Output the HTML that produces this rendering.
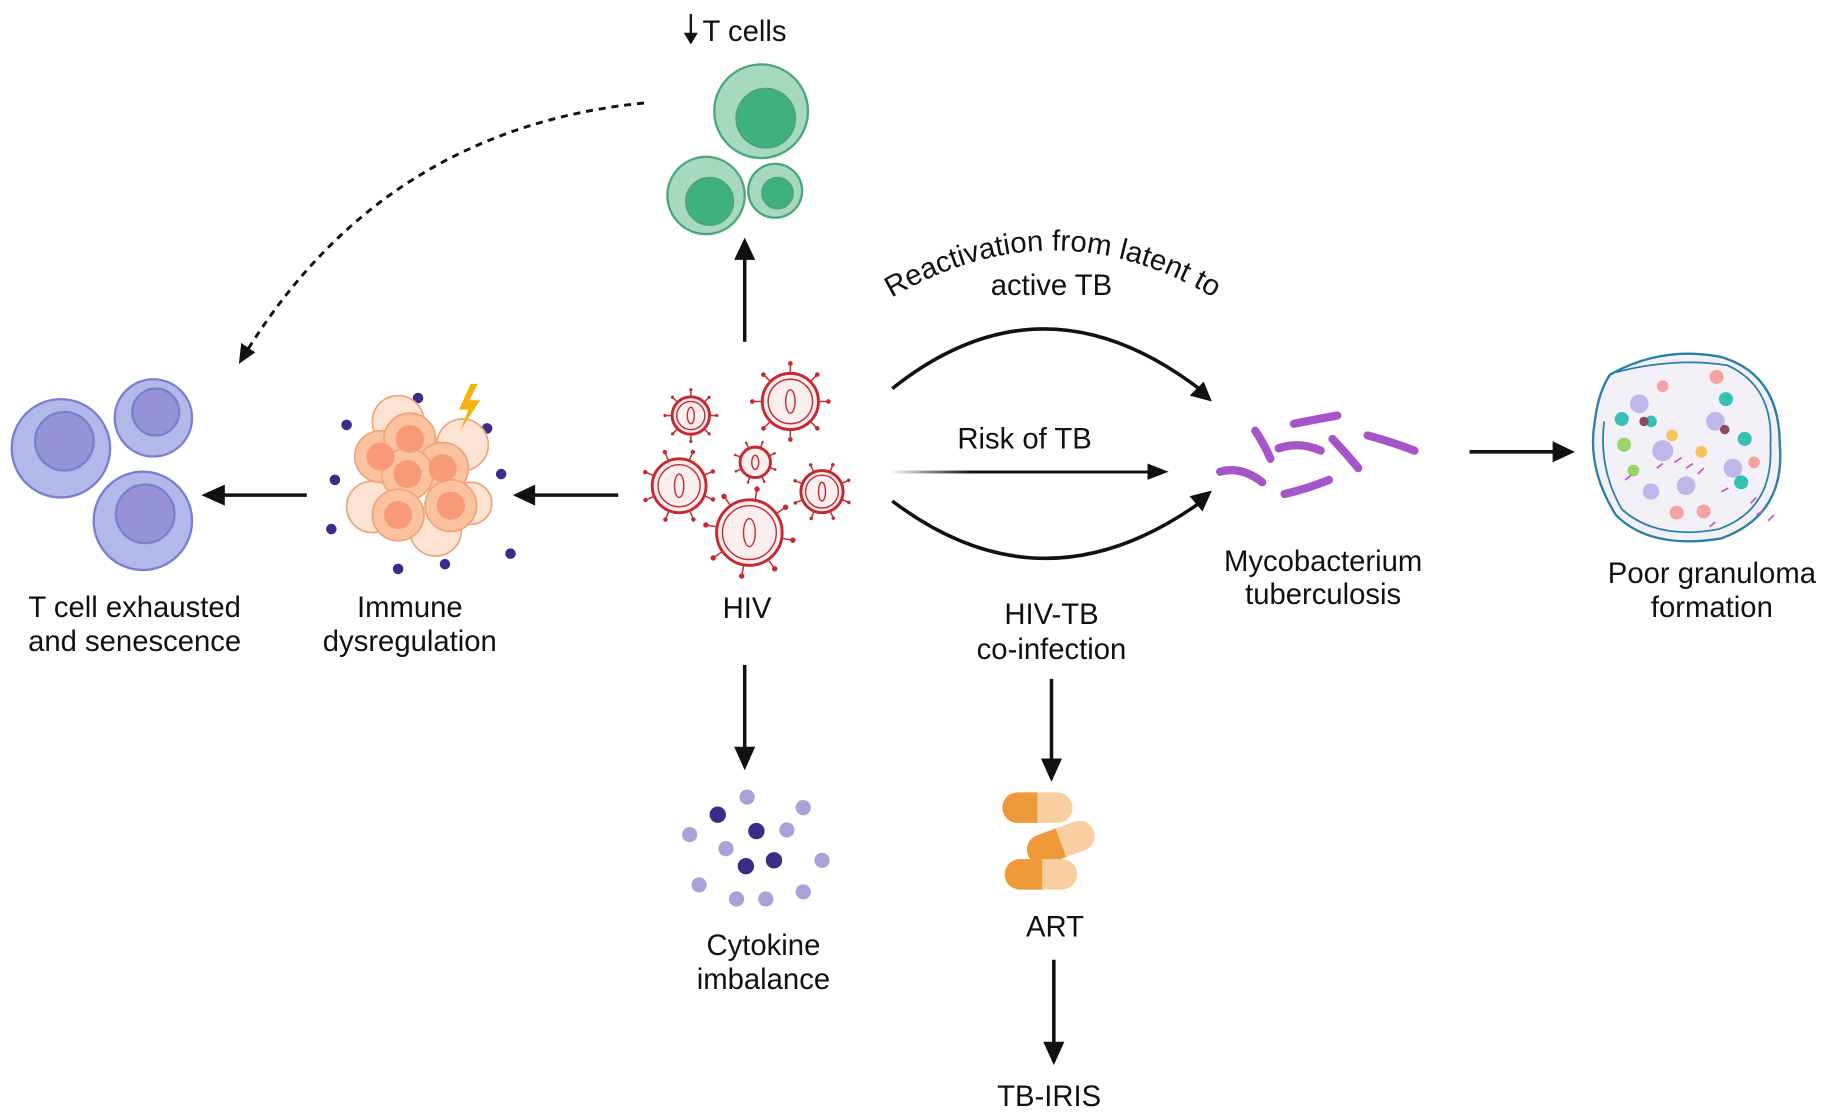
<!DOCTYPE html>
<html><head><meta charset="utf-8"><style>
html,body{margin:0;padding:0;background:#fff;}
svg{display:block;}
text{font-family:"Liberation Sans",Arial,sans-serif;font-size:25px;fill:#111;}
</style></head><body>
<svg width="1836" height="1119" viewBox="0 0 1568 956" preserveAspectRatio="none" xmlns="http://www.w3.org/2000/svg">
<defs>
<linearGradient id="fade" gradientUnits="userSpaceOnUse" x1="760" y1="0" x2="990" y2="0"><stop offset="0" stop-color="#111" stop-opacity="0"/><stop offset="0.3" stop-color="#111"/></linearGradient>
<g id="virus">
 <g stroke="#c62a30" stroke-width="1.5" vector-effect="non-scaling-stroke">
  <line x1="0" y1="-1" x2="0" y2="-1.25" vector-effect="non-scaling-stroke"/><line x1="0" y1="1" x2="0" y2="1.25" vector-effect="non-scaling-stroke"/>
  <line x1="-1" y1="0" x2="-1.25" y2="0" vector-effect="non-scaling-stroke"/><line x1="1" y1="0" x2="1.25" y2="0" vector-effect="non-scaling-stroke"/>
  <line x1="0.71" y1="0.71" x2="0.88" y2="0.88" vector-effect="non-scaling-stroke"/><line x1="-0.71" y1="0.71" x2="-0.88" y2="0.88" vector-effect="non-scaling-stroke"/>
  <line x1="0.71" y1="-0.71" x2="0.88" y2="-0.88" vector-effect="non-scaling-stroke"/><line x1="-0.71" y1="-0.71" x2="-0.88" y2="-0.88" vector-effect="non-scaling-stroke"/>
 </g>
 <g fill="#c62a30">
  <circle cx="0" cy="-1.3" r="0.08"/><circle cx="0" cy="1.3" r="0.08"/><circle cx="-1.3" cy="0" r="0.08"/><circle cx="1.3" cy="0" r="0.08"/>
  <circle cx="0.92" cy="0.92" r="0.08"/><circle cx="-0.92" cy="0.92" r="0.08"/><circle cx="0.92" cy="-0.92" r="0.08"/><circle cx="-0.92" cy="-0.92" r="0.08"/>
 </g>
</g>
</defs>

<!-- T cells -->
<text x="600" y="35">T cells</text>
<line x1="590" y1="12" x2="590" y2="34" stroke="#111" stroke-width="2"/>
<polygon points="584,28 596,28 590,38" fill="#111"/>
<g stroke="#4aa77c" stroke-width="2">
<circle cx="650" cy="95" r="40" fill="#a6d9bf"/><circle cx="654" cy="101" r="25" fill="#3fb081"/>
<circle cx="603" cy="167" r="33" fill="#a6d9bf"/><circle cx="606" cy="172" r="20" fill="#3fb081"/>
<circle cx="662" cy="163" r="23" fill="#a6d9bf"/><circle cx="664" cy="165" r="13" fill="#3fb081"/>
</g>
<path d="M550,88 Q330,110 212,298" fill="none" stroke="#111" stroke-width="2.5" stroke-dasharray="6,5"/>
<polygon points="204,311 206,293 218,301" fill="#111"/>
<line x1="636" y1="292" x2="636" y2="220" stroke="#111" stroke-width="3"/>
<polygon points="627,222 645,222 636,203" fill="#111"/>

<!-- HIV -->
<g fill="#c62a30">
<use href="#virus" transform="translate(590,355) scale(17)"/>
<use href="#virus" transform="translate(675,343) scale(25)"/>
<use href="#virus" transform="translate(645,395) scale(14) rotate(20)"/>
<use href="#virus" transform="translate(580,415) scale(24) rotate(22)"/>
<use href="#virus" transform="translate(640,455) scale(29) rotate(10)"/>
<use href="#virus" transform="translate(702,420) scale(19) rotate(22)"/>
</g>
<g fill="#fbeeee" stroke="#c62a30" stroke-width="2.5">
<circle cx="590" cy="355" r="16"/><circle cx="675" cy="343" r="24"/><circle cx="645" cy="395" r="13"/>
<circle cx="580" cy="415" r="23"/><circle cx="640" cy="455" r="28"/><circle cx="702" cy="420" r="18"/>
</g>
<g fill="none" stroke="#c62a30" stroke-width="1.2">
<circle cx="590" cy="355" r="12"/><circle cx="675" cy="343" r="19"/><circle cx="580" cy="415" r="18"/><circle cx="640" cy="455" r="23"/><circle cx="702" cy="420" r="14"/>
<ellipse cx="590" cy="355" rx="3" ry="7"/><ellipse cx="675" cy="343" rx="4" ry="10"/><ellipse cx="645" cy="395" rx="3" ry="6"/><ellipse cx="580" cy="415" rx="4" ry="10"/><ellipse cx="640" cy="455" rx="5" ry="12"/><ellipse cx="702" cy="420" rx="3" ry="8"/>
</g>
<text x="638" y="528" text-anchor="middle">HIV</text>

<line x1="528" y1="423" x2="455" y2="423" stroke="#111" stroke-width="3"/>
<polygon points="457,414 457,432 438,423" fill="#111"/>

<!-- Immune dysregulation -->
<g fill="#3d2a8a">
<circle cx="357" cy="340" r="4.5"/><circle cx="296" cy="363" r="4.5"/><circle cx="416" cy="366" r="4.5"/><circle cx="286" cy="410" r="4.5"/><circle cx="428" cy="405" r="4.5"/><circle cx="283" cy="452" r="4.5"/><circle cx="436" cy="473" r="4.5"/><circle cx="340" cy="486" r="4.5"/><circle cx="380" cy="482" r="4.5"/>
</g>
<g stroke="#f0a57a" stroke-width="1.5">
<circle cx="340" cy="360" r="22" fill="#fde3d3"/><circle cx="395" cy="380" r="22" fill="#fde3d3"/><circle cx="318" cy="433" r="22" fill="#fde3d3"/><circle cx="372" cy="453" r="22" fill="#fde3d3"/><circle cx="402" cy="430" r="18" fill="#fde3d3"/>
<circle cx="325" cy="390" r="22" fill="#fbc29f"/><circle cx="350" cy="375" r="22" fill="#fbc29f"/><circle cx="378" cy="400" r="22" fill="#fbc29f"/><circle cx="348" cy="405" r="22" fill="#fbc29f"/><circle cx="385" cy="432" r="22" fill="#fbc29f"/><circle cx="340" cy="440" r="22" fill="#fbc29f"/>
</g>
<g fill="#f79a76">
<circle cx="325" cy="390" r="12"/><circle cx="350" cy="375" r="12"/><circle cx="378" cy="400" r="12"/><circle cx="348" cy="405" r="12"/><circle cx="385" cy="432" r="12"/><circle cx="340" cy="440" r="12"/>
</g>
<polygon points="402,328 392,350 400,350 393,368 410,342 401,342 408,328" fill="#f6b10a"/>
<text x="350" y="527" text-anchor="middle">Immune</text>
<text x="350" y="556" text-anchor="middle">dysregulation</text>

<line x1="262" y1="423" x2="190" y2="423" stroke="#111" stroke-width="3"/>
<polygon points="192,414 192,432 172,423" fill="#111"/>

<!-- T cell exhausted -->
<g stroke="#7b7fd0" stroke-width="2">
<circle cx="52" cy="383" r="42" fill="#b3b8ea"/><circle cx="55" cy="377" r="25" fill="#9693d6"/>
<circle cx="131" cy="357" r="33" fill="#b3b8ea"/><circle cx="133" cy="352" r="20" fill="#9693d6"/>
<circle cx="122" cy="445" r="42" fill="#b3b8ea"/><circle cx="124" cy="439" r="25" fill="#9693d6"/>
</g>
<text x="115" y="527" text-anchor="middle">T cell exhausted</text>
<text x="115" y="556" text-anchor="middle">and senescence</text>

<!-- Cytokine -->
<line x1="636" y1="568" x2="636" y2="640" stroke="#111" stroke-width="3"/>
<polygon points="627,638 645,638 636,658" fill="#111"/>
<g fill="#a8a2d6">
<circle cx="638" cy="681" r="6.5"/><circle cx="686" cy="690" r="6.5"/><circle cx="589" cy="713" r="6.5"/><circle cx="672" cy="709" r="6.5"/><circle cx="620" cy="725" r="6.5"/><circle cx="702" cy="735" r="6.5"/><circle cx="597" cy="756" r="6.5"/><circle cx="629" cy="768" r="6.5"/><circle cx="654" cy="768" r="6.5"/><circle cx="686" cy="762" r="6.5"/>
</g>
<g fill="#3a2b85"><circle cx="613" cy="696" r="7"/><circle cx="646" cy="710" r="7"/><circle cx="637" cy="740" r="7"/><circle cx="661" cy="735" r="7"/></g>
<text x="652" y="816" text-anchor="middle">Cytokine</text>
<text x="652" y="845" text-anchor="middle">imbalance</text>

<!-- Curved arrows -->
<path id="arc" d="M740,268 Q900,160 1058,268" fill="none"/>
<text font-size="25"><textPath href="#arc" startOffset="50%" text-anchor="middle">Reactivation from latent to</textPath></text>
<text x="898" y="252" text-anchor="middle">active TB</text>
<path d="M762,332 Q890,230 1024,332" fill="none" stroke="#111" stroke-width="3"/>
<polygon points="1035,343 1016,338 1028,326" fill="#111"/>
<text x="875" y="383" text-anchor="middle">Risk of TB</text>
<rect x="760" y="402" width="222" height="2.5" fill="url(#fade)"/>
<polygon points="980,396 980,410 998,403" fill="#111"/>
<path d="M762,428 Q890,525 1024,430" fill="none" stroke="#111" stroke-width="3"/>
<polygon points="1035,419 1016,424 1027,437" fill="#111"/>
<text x="898" y="533" text-anchor="middle">HIV-TB</text>
<text x="898" y="563" text-anchor="middle">co-infection</text>

<!-- ART -->
<line x1="898" y1="580" x2="898" y2="650" stroke="#111" stroke-width="3"/>
<polygon points="889,648 907,648 898,668" fill="#111"/>
<g>
<rect x="856" y="677" width="60" height="26" rx="13" fill="#f9cfa1"/><path d="M869,677 h17 v26 h-17 a13,13 0 0 1 0,-26z" fill="#ef9a3a"/>
<rect x="876" y="707" width="60" height="26" rx="13" fill="#f9cfa1" transform="rotate(-20 906 720)"/><path d="M889,707 h17 v26 h-17 a13,13 0 0 1 0,-26z" fill="#ef9a3a" transform="rotate(-20 906 720)"/>
<rect x="858" y="734" width="62" height="26" rx="13" fill="#f9cfa1"/><path d="M871,734 h19 v26 h-19 a13,13 0 0 1 0,-26z" fill="#ef9a3a"/>
</g>
<text x="901" y="800" text-anchor="middle">ART</text>
<line x1="900" y1="820" x2="900" y2="892" stroke="#111" stroke-width="3"/>
<polygon points="891,890 909,890 900,910" fill="#111"/>
<text x="896" y="945" text-anchor="middle">TB-IRIS</text>

<!-- Mycobacterium -->
<g stroke="#a555c7" stroke-width="7" stroke-linecap="round" fill="none">
<path d="M1042,403 Q1060,398 1078,412"/>
<path d="M1072,368 Q1080,380 1085,392"/>
<path d="M1092,383 Q1110,377 1128,385"/>
<path d="M1105,362 Q1125,358 1142,355"/>
<path d="M1097,422 Q1115,418 1135,410"/>
<path d="M1138,375 Q1152,390 1160,400"/>
<path d="M1168,372 Q1190,378 1208,385"/>
</g>
<text x="1130" y="488" text-anchor="middle">Mycobacterium</text>
<text x="1130" y="516" text-anchor="middle">tuberculosis</text>

<line x1="1255" y1="386" x2="1328" y2="386" stroke="#111" stroke-width="3"/>
<polygon points="1326,377 1326,395 1345,386" fill="#111"/>

<!-- Granuloma -->
<g>
<path d="M1375,320 Q1420,295 1470,305 Q1520,320 1520,380 Q1525,440 1470,460 Q1410,470 1380,440 Q1355,400 1362,360 Q1365,335 1375,320Z" fill="#f3f0f8" stroke="#2a7fa8" stroke-width="2"/>
<path d="M1380,318 Q1430,305 1475,312 Q1515,330 1512,380 Q1515,435 1468,452 Q1415,462 1385,435 Q1365,400 1370,360" fill="none" stroke="#2a7fa8" stroke-width="1.5"/>
<g fill="#bfb6ea"><circle cx="1400" cy="345" r="8"/><circle cx="1420" cy="385" r="9"/><circle cx="1440" cy="415" r="8"/><circle cx="1465" cy="360" r="8"/><circle cx="1480" cy="400" r="8"/><circle cx="1410" cy="420" r="7"/></g>
<g fill="#37c1b4"><circle cx="1385" cy="358" r="6"/><circle cx="1474" cy="341" r="6"/><circle cx="1490" cy="375" r="6"/><circle cx="1410" cy="360" r="5"/><circle cx="1487" cy="412" r="6"/></g>
<g fill="#f4a2a2"><circle cx="1466" cy="322" r="6"/><circle cx="1420" cy="330" r="5"/><circle cx="1455" cy="437" r="6"/><circle cx="1432" cy="438" r="6"/><circle cx="1498" cy="395" r="5"/></g>
<g fill="#9ad36a"><circle cx="1387" cy="380" r="6"/><circle cx="1395" cy="402" r="5"/></g>
<g fill="#f6c35a"><circle cx="1453" cy="386" r="5"/><circle cx="1428" cy="372" r="5"/></g>
<g fill="#8a4a5a"><circle cx="1404" cy="360" r="4"/><circle cx="1473" cy="367" r="4"/></g>
<g stroke="#c658c4" stroke-width="1.5"><path d="M1430,395 l6,-4 M1440,400 l6,-4 M1450,405 l5,-5 M1495,430 l5,-5 M1500,440 l6,-4 M1510,445 l5,-5 M1388,410 l5,-4 M1460,450 l5,-4 M1470,420 l6,-3 M1415,400 l5,-4"/></g>
</g>
<text x="1462" y="498" text-anchor="middle">Poor granuloma</text>
<text x="1462" y="527" text-anchor="middle">formation</text>
</svg>
</body></html>
